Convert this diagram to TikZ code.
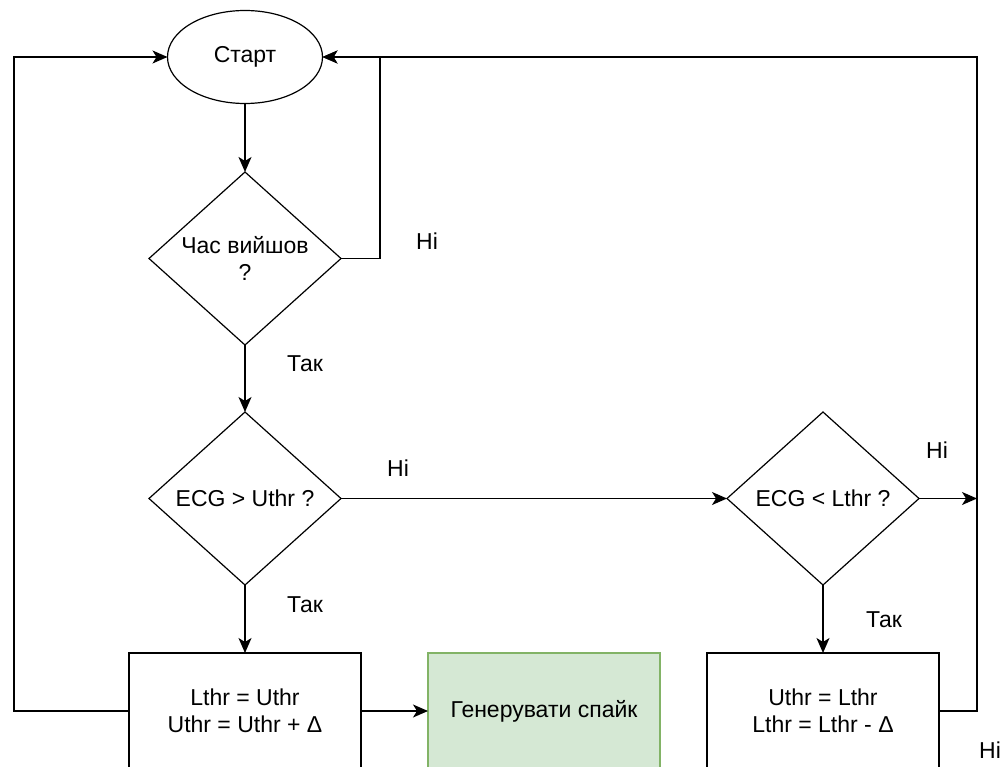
\documentclass[tikz,border=0pt]{standalone}
\usepackage{fontspec}
\setmainfont{Liberation Sans}
\usetikzlibrary{arrows.meta, shapes.geometric}

\definecolor{spikefill}{HTML}{D5E8D4}
\definecolor{spikeline}{HTML}{82B366}

\begin{document}
\begin{tikzpicture}[x=1pt, y=-1pt,
    font=\fontsize{23}{27}\selectfont,
    every node/.style={inner sep=0pt, outer sep=0pt},
    terminal/.style={ellipse, draw, line width=1.2pt,
        minimum width=155pt, minimum height=93pt},
    decision/.style={diamond, draw, line width=1.2pt,
        minimum width=192pt, minimum height=173pt, align=center},
    process/.style={rectangle, draw, line width=1.3pt,
        minimum width=232pt, minimum height=116pt, align=center},
    output/.style={process, draw=spikeline, fill=spikefill},
    link/.style={line width=1.4pt},
    flow/.style={link, -{Stealth[length=15pt, width=13pt, inset=4pt]}}
]
\useasboundingbox (0,0) rectangle (1008,767);

% =========================
% Start and timer check
% =========================
\node[terminal] (start) at (245,57) {Старт};
\node[decision] (timer) at (245,258.5) {Час вийшов\\?};

\draw[flow] (start) -- (timer);
\draw[flow] (timer.east) -- ++(39,0) |- (start.east);
\node (timerno) at (427,241) {Ні};
\node (timeryes) at (305,364) {Так};

% =========================
% Threshold checks
% =========================
\node[decision] (upper) at (245,498.5) {ECG > Uthr ?};
\node[decision] (lower) at (823,498.5) {ECG < Lthr ?};
\coordinate (rail) at (977,498.5);

\draw[flow] (timer) -- (upper);
\draw[flow] (upper) -- (lower);
\draw[flow] (lower) -- (rail);
\node (upperno) at (398,468) {Ні};
\node (lowerno) at (937,450) {Ні};
\node (upperyes) at (305,605) {Так};
\node (loweryes) at (884,620) {Так};

% =========================
% Threshold updates
% =========================
\node[process] (raise) at (245,711) {Lthr = Uthr\\Uthr = Uthr + Δ};
\node[output] (spike) at (544,711) {Генерувати спайк};
\node[process] (drop) at (823,711) {Uthr = Lthr\\Lthr = Lthr - Δ};

\draw[flow] (upper) -- (raise);
\draw[flow] (lower) -- (drop);
\draw[flow] (raise) -- (spike);

% return loops
\draw[flow] (raise.west) -- ++(-115,0) |- (start.west);
\draw[flow] (drop.east) -- ++(38,0) |- (start.east);
\node (dropno) at (990,750) {Ні};

\end{tikzpicture}
\end{document}
